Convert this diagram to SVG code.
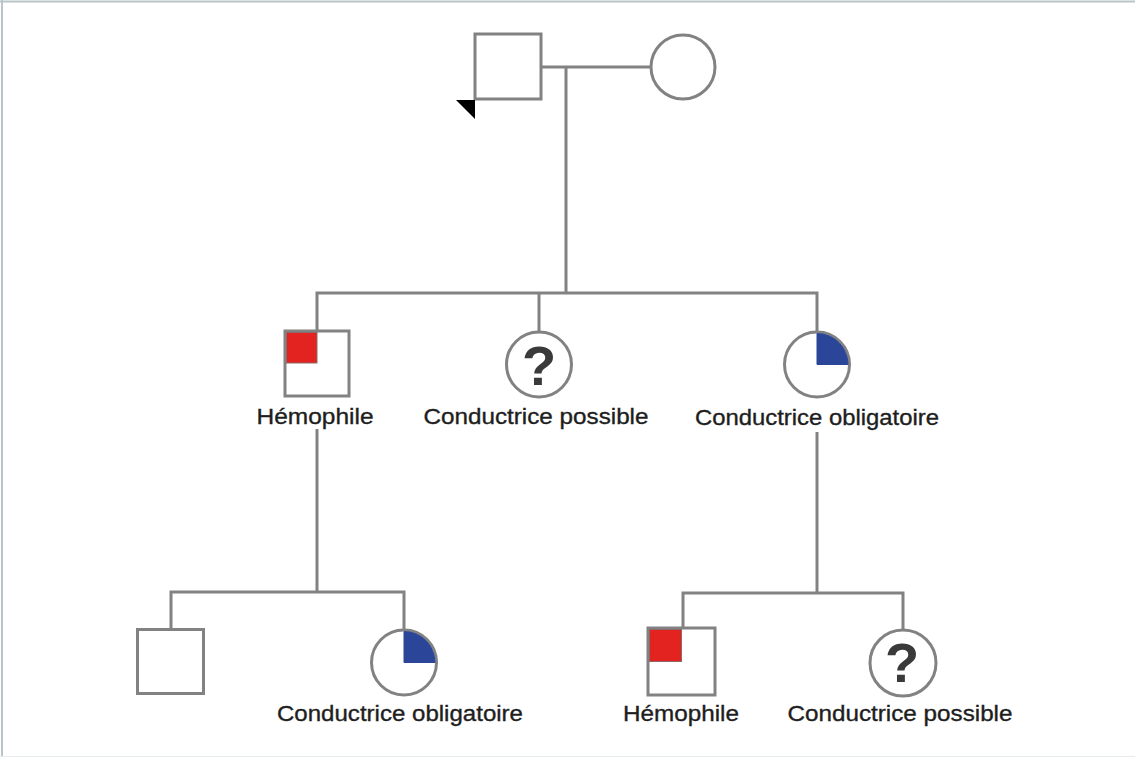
<svg xmlns="http://www.w3.org/2000/svg" width="1135" height="757" viewBox="0 0 1135 757">
<style>
.ln{stroke:#828282;stroke-width:3;fill:none}
.sh{stroke:#828282;stroke-width:3;fill:#fff}
.red{fill:#e2231f;stroke:#8a6a6a;stroke-width:1}
.blue{fill:#2b4599;stroke:#2b4599;stroke-width:1}
.lbl{font-family:"Liberation Sans",Arial,Helvetica,sans-serif;font-size:22px;fill:#1e1e1e;stroke:#1e1e1e;stroke-width:0.35;text-anchor:middle}
.q{font-family:"Liberation Sans",Arial,Helvetica,sans-serif;font-size:56px;font-weight:bold;fill:#3a3a3a;text-anchor:middle}
</style>
<rect x="0" y="0" width="1135" height="757" fill="#fff"/>
<g id="frame">
<line x1="0" y1="1.5" x2="1135" y2="1.5" stroke="#b9c5c9" stroke-width="2"/>
<line x1="2" y1="0" x2="2" y2="757" stroke="#b9c5c9" stroke-width="2"/>
<line x1="0" y1="756.5" x2="1135" y2="756.5" stroke="#e6ecee" stroke-width="1"/>
</g>
<g id="connectors">
<line class="ln" x1="541" y1="67" x2="651" y2="67"/>
<line class="ln" x1="566" y1="67" x2="566" y2="293"/>
<polyline class="ln" points="317,331 317,293 817,293 817,331.5"/>
<line class="ln" x1="539" y1="293" x2="539" y2="332"/>
<line class="ln" x1="317" y1="429" x2="317" y2="592"/>
<polyline class="ln" points="171,629.5 171,592 404,592 404,630"/>
<line class="ln" x1="817" y1="432" x2="817" y2="593"/>
<polyline class="ln" points="683,628 683,593 903,593 903,630"/>
</g>
<g id="father">
<rect class="sh" x="475" y="34" width="66" height="65"/>
<polygon points="456,100 475,100 475,119" fill="#000"/>
</g>
<g id="mother">
<circle class="sh" cx="683" cy="67" r="32"/>
</g>
<g id="son-hemophile">
<rect class="sh" x="285" y="331" width="64" height="65"/>
<rect class="red" x="286.5" y="332.5" width="30.5" height="30.5"/>
<text class="lbl" x="315" y="424" textLength="117" lengthAdjust="spacingAndGlyphs">Hémophile</text>
</g>
<g id="daughter-possible">
<circle class="sh" cx="539" cy="364.5" r="32.5"/>
<text class="q" x="539" y="385">?</text>
<text class="lbl" x="536" y="424" textLength="225" lengthAdjust="spacingAndGlyphs">Conductrice possible</text>
</g>
<g id="daughter-obligatoire">
<circle class="sh" cx="817" cy="364.5" r="32.5"/>
<path class="blue" d="M817,364.5 L817,333.5 A31,31 0 0 1 848,364.5 Z"/>
<text class="lbl" x="817" y="425" textLength="244" lengthAdjust="spacingAndGlyphs">Conductrice obligatoire</text>
</g>
<g id="grandson-healthy">
<rect class="sh" x="137.5" y="629.5" width="66" height="64"/>
</g>
<g id="granddaughter-obligatoire">
<circle class="sh" cx="404" cy="662.5" r="32.5"/>
<path class="blue" d="M404,662.5 L404,631.5 A31,31 0 0 1 435,662.5 Z"/>
<text class="lbl" x="400" y="721" textLength="246" lengthAdjust="spacingAndGlyphs">Conductrice obligatoire</text>
</g>
<g id="grandson-hemophile">
<rect class="sh" x="648" y="628" width="67" height="67"/>
<rect class="red" x="649.5" y="629.5" width="32" height="32"/>
<text class="lbl" x="681" y="721" textLength="116" lengthAdjust="spacingAndGlyphs">Hémophile</text>
</g>
<g id="granddaughter-possible">
<circle class="sh" cx="903" cy="663" r="33"/>
<text class="q" x="902" y="682">?</text>
<text class="lbl" x="900" y="721" textLength="225" lengthAdjust="spacingAndGlyphs">Conductrice possible</text>
</g>
</svg>
